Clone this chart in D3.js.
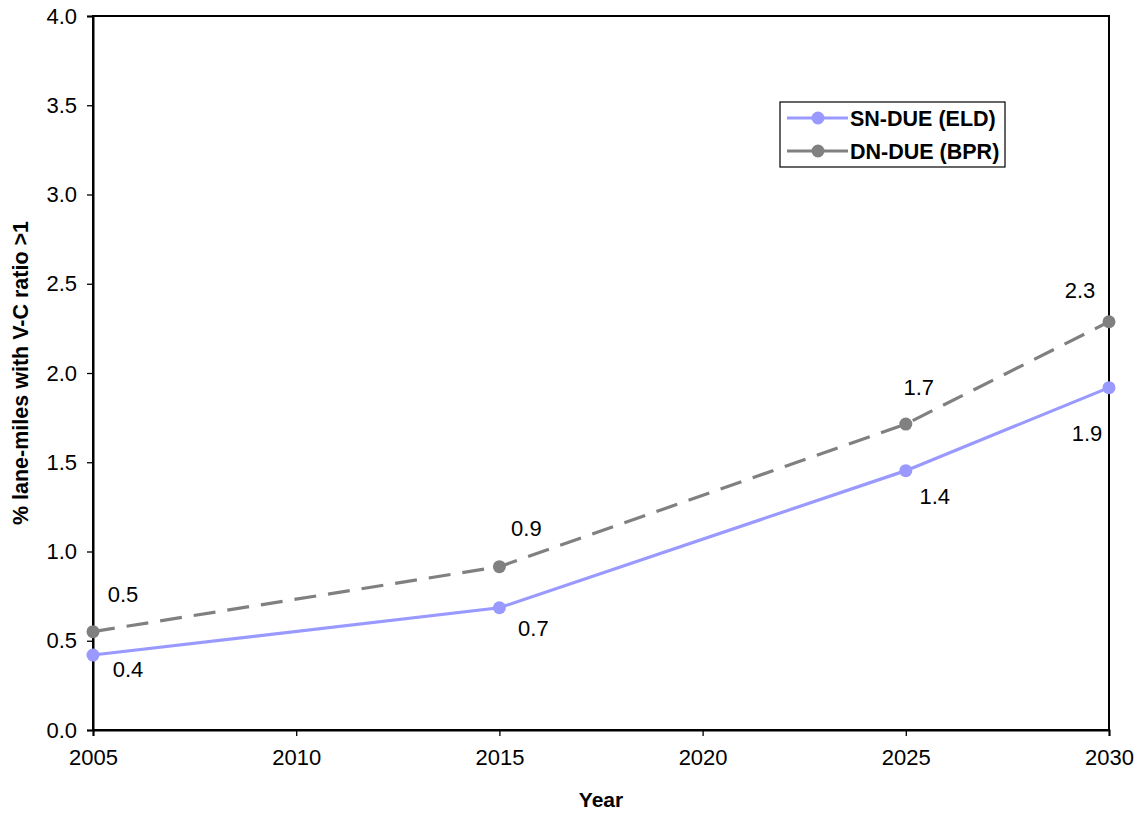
<!DOCTYPE html>
<html><head><meta charset="utf-8">
<script src="https://cdn.jsdelivr.net/npm/d3@7"></script>
<style>body{margin:0;background:#fff;} text{font-family:Arial,"Liberation Sans",sans-serif;}</style>
</head><body><svg id="c" width="1143" height="815"></svg>
<script>
const years = [2005, 2015, 2025, 2030];
const snDue = [0.42, 0.685, 1.453, 1.918];
const dnDue = [0.551, 0.915, 1.714, 2.287];
const snLabels = ["0.4", "0.7", "1.4", "1.9"];
const dnLabels = ["0.5", "0.9", "1.7", "2.3"];
const xTicks = [2005, 2010, 2015, 2020, 2025, 2030];
const yTicks = [0, 0.5, 1, 1.5, 2, 2.5, 3, 3.5, 4];
const seriesNames = ["SN-DUE (ELD)", "DN-DUE (BPR)"];

// label offsets (styling)
const snOff = [[35, 14], [34, 21], [29, 26], [-22, 46]];
const dnOff = [[30, -37], [27, -38], [13, -37], [-29, -31]];

const svg = d3.select("#c");
const L = 93, R = 1109, T = 16, B = 730;
const x = d3.scaleLinear().domain([2005, 2030]).range([L, R]);
const y = d3.scaleLinear().domain([0, 4]).range([B, T]);

svg.append("rect").attr("x", L).attr("y", T).attr("width", R - L).attr("height", B - T)
  .attr("fill", "none").attr("stroke", "#000").attr("stroke-width", 2);

const xa = svg.append("g").attr("transform", `translate(0,${B})`)
  .call(d3.axisBottom(x).tickValues(xTicks).tickFormat(d3.format("d")).tickSize(6).tickPadding(13));
const ya = svg.append("g").attr("transform", `translate(${L},0)`)
  .call(d3.axisLeft(y).tickValues(yTicks).tickFormat(d3.format(".1f")).tickSize(6).tickPadding(10));
[xa, ya].forEach(a => {
  a.select(".domain").attr("stroke-width", 2);
  a.selectAll(".tick line").attr("stroke", "#000").attr("stroke-width", 1.3);
  a.selectAll("text").attr("font-size", 22).attr("fill", "#000")
    .attr("font-family", "Arial, 'Liberation Sans', sans-serif");
});

svg.append("text").attr("x", (L + R) / 2).attr("y", 807).attr("text-anchor", "middle")
  .attr("font-size", 21).attr("font-weight", "bold").text("Year");
svg.append("text").attr("transform", `translate(28,${(T + B) / 2}) rotate(-90)`)
  .attr("text-anchor", "middle").attr("font-size", 21.5).attr("font-weight", "bold")
  .text("% lane-miles with V-C ratio >1");

const line = d3.line().x((d, i) => x(years[i])).y(d => y(d));
const series = [
  { vals: dnDue, color: "#808080", dash: "22,12", labels: dnLabels, off: dnOff },
  { vals: snDue, color: "#9999FF", dash: null, labels: snLabels, off: snOff }
];
series.forEach(s => {
  svg.append("path").datum(s.vals).attr("d", line).attr("fill", "none")
    .attr("stroke", s.color).attr("stroke-width", 3.2).attr("stroke-dasharray", s.dash);
  svg.selectAll(null).data(s.vals).enter().append("circle")
    .attr("cx", (d, i) => x(years[i])).attr("cy", d => y(d)).attr("r", 6.5).attr("fill", s.color);
  svg.selectAll(null).data(s.vals).enter().append("text")
    .attr("x", (d, i) => x(years[i]) + s.off[i][0]).attr("y", (d, i) => y(d) + s.off[i][1])
    .attr("text-anchor", "middle").attr("dominant-baseline", "central")
    .attr("font-size", 22).text((d, i) => s.labels[i]);
});

const lg = svg.append("g");
lg.append("rect").attr("x", 780).attr("y", 102).attr("width", 225).attr("height", 65)
  .attr("fill", "#fff").attr("stroke", "#000").attr("stroke-width", 1.2);
const legendItems = [
  { name: seriesNames[0], color: "#9999FF", dash: null, yy: 118 },
  { name: seriesNames[1], color: "#808080", dash: "22,12", yy: 151 }
];
legendItems.forEach(it => {
  lg.append("line").attr("x1", 787).attr("x2", 848).attr("y1", it.yy).attr("y2", it.yy)
    .attr("stroke", it.color).attr("stroke-width", 3.2).attr("stroke-dasharray", it.dash ? "25,8,30" : null);
  lg.append("circle").attr("cx", 818).attr("cy", it.yy).attr("r", 6.5).attr("fill", it.color);
  lg.append("text").attr("x", 850).attr("y", it.yy + 1).attr("dominant-baseline", "central")
    .attr("font-size", 21.5).attr("font-weight", "bold").text(it.name);
});
</script></body></html>
